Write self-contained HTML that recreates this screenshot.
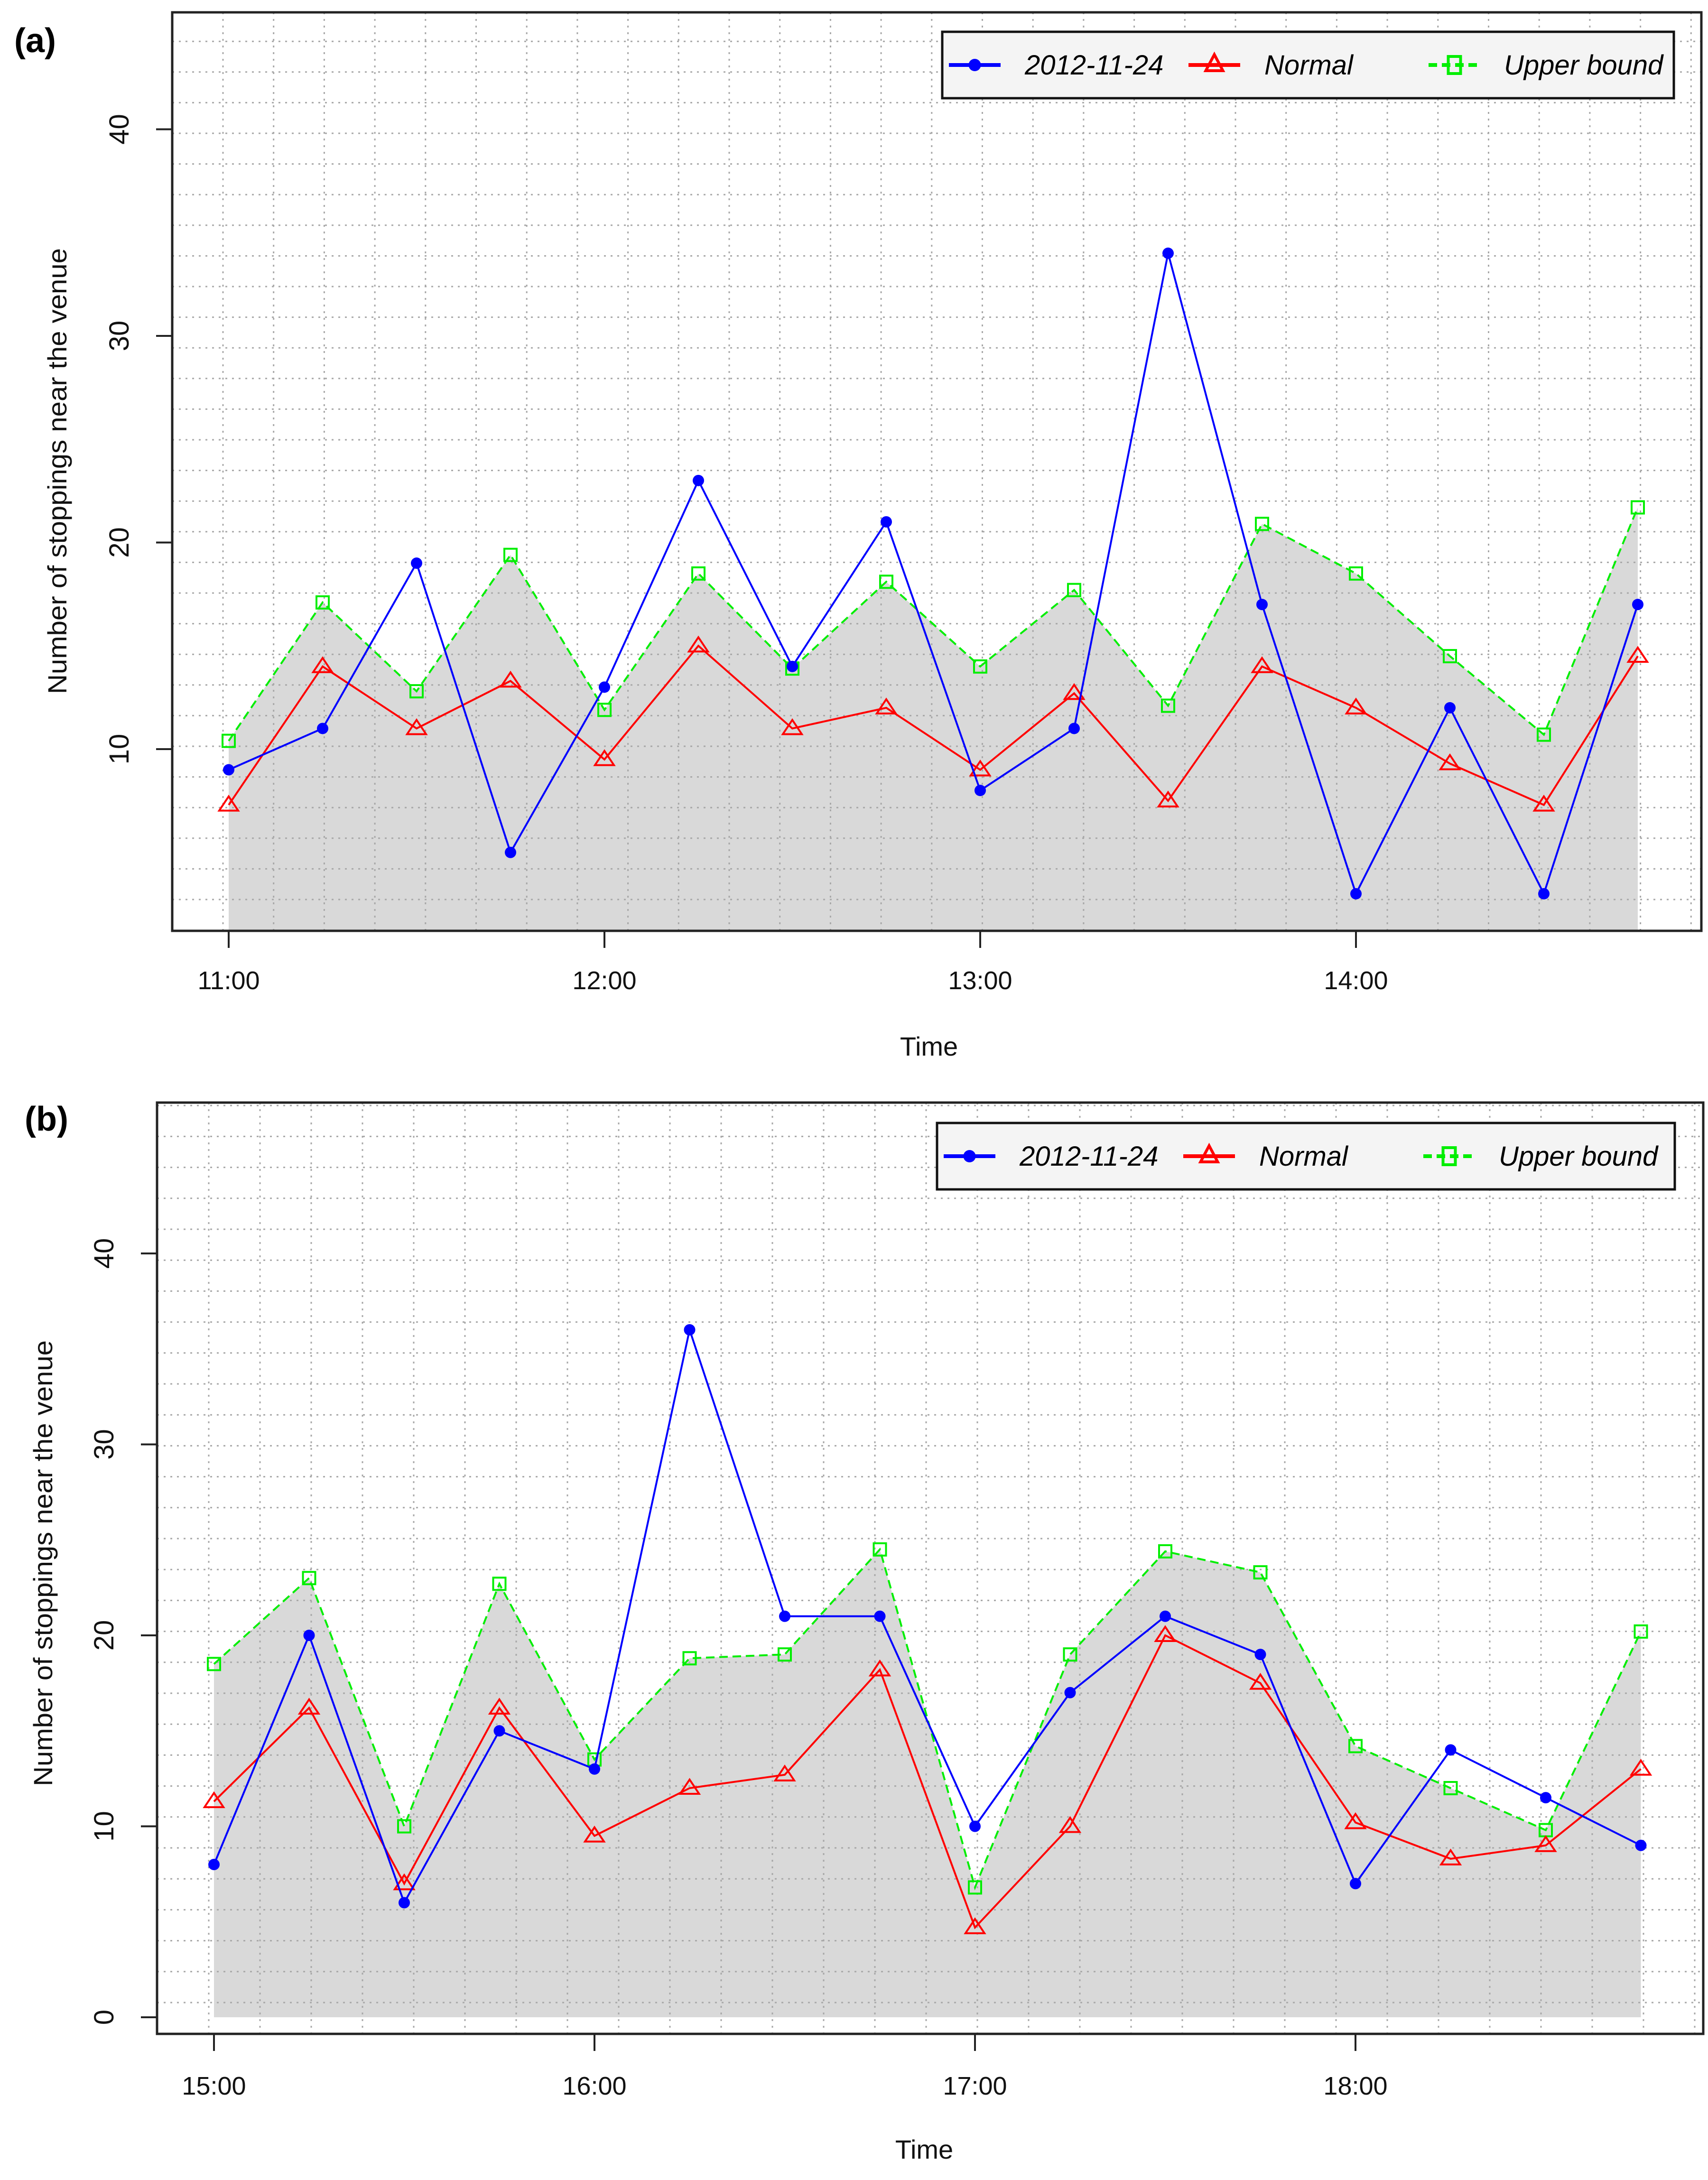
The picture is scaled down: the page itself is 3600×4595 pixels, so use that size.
<!DOCTYPE html>
<html><head><meta charset="utf-8">
<style>
html,body{margin:0;padding:0;background:#fff;}
svg{display:block;font-family:"Liberation Sans",Arial,sans-serif;}
</style></head>
<body>
<svg id="chart" width="3600" height="4595" viewBox="0 0 3600 4595" xmlns="http://www.w3.org/2000/svg"></svg>
<script>
// ---- data ----
const ticksA = ["11:00","12:00","13:00","14:00"];
const ticksB = ["15:00","16:00","17:00","18:00"];
const yTicksA = [10,20,30,40];
const yTicksB = [0,10,20,30,40];
const obsA = [9,11,19,5,13,23,14,21,8,11,34,17,3,12,3,17];
const normA = [7.3,14,11,13.3,9.5,15,11,12,9,12.7,7.5,14,12,9.3,7.3,14.5];
const upperA = [10.4,17.1,12.8,19.4,11.9,18.5,13.9,18.1,14,17.7,12.1,20.9,18.5,14.5,10.7,21.7];
const obsB = [8,20,6,15,13,36,21,21,10,17,21,19,7,14,11.5,9];
const normB = [11.3,16.2,7,16.2,9.5,12,12.7,18.2,4.7,10,20,17.5,10.2,8.3,9,13];
const upperB = [18.5,23,10,22.7,13.5,18.8,19,24.5,6.8,19,24.4,23.3,14.2,12,9.8,20.2];

const NS="http://www.w3.org/2000/svg";
const svg=document.getElementById('chart');
function mk(tag,attrs,parent){const e=document.createElementNS(NS,tag);for(const k in attrs)e.setAttribute(k,attrs[k]);(parent||svg).appendChild(e);return e;}

function panel(cfg){
  const g=mk('g',{});
  
  
  const L=cfg.left,R=cfg.right,T=cfg.top,B=cfg.bottom;
  const xs=i=>cfg.x0+i*cfg.hour/4;
  const ys=v=>cfg.yRef-(v-cfg.vRef)*cfg.unit;
  const cid='clip'+cfg.name;
  const defs=mk('defs',{},g);
  const cp=mk('clipPath',{id:cid},defs);
  mk('rect',{x:L,y:T,width:R-L,height:B-T},cp);
  const pg=mk('g',{'clip-path':'url(#'+cid+')'},g);
  let d='M'+xs(0)+','+ys(0);
  cfg.upper.forEach((v,i)=>{d+=' L'+xs(i)+','+ys(v);});
  d+=' L'+xs(cfg.upper.length-1)+','+ys(0)+' Z';
  const f=mk('path',{d:d,fill:'#d9d9d9'},pg);
  
  
  const grid=mk('g',{stroke:'#a8a8a8','stroke-width':3,'stroke-dasharray':'4 10'},pg);
  
  
  for(let x=cfg.gx0;x<R;x+=cfg.gdx) mk('line',{x1:x,y1:T,x2:x,y2:B},grid);
  for(let y=cfg.gy0;y>T;y-=cfg.gdy) mk('line',{x1:L,y1:y,x2:R,y2:y},grid);
  function series(vals,color,dash,name,marker){
    const sg=mk('g',{},pg);
    
    
    const pts=vals.map((v,i)=>xs(i)+','+ys(v)).join(' ');
    mk('polyline',{points:pts,fill:'none',stroke:color,'stroke-width':4,'stroke-dasharray':dash||'none'},sg);
    vals.forEach((v,i)=>{
      const x=xs(i),y=ys(v);let m;
      if(marker==='circle') m=mk('circle',{cx:x,cy:y,r:12,fill:color},sg);
      else if(marker==='tri') m=mk('polygon',{points:(x)+','+(y-18)+' '+(x-20)+','+(y+12)+' '+(x+20)+','+(y+12),fill:'none',stroke:color,'stroke-width':4},sg);
      else m=mk('rect',{x:x-13,y:y-13,width:26,height:26,fill:'none',stroke:color,'stroke-width':4},sg);
      
      
    });
  }
  series(cfg.upper,'#00ee00','18 10','upper-bound-series','sq');
  series(cfg.norm,'#ff0000',null,'normal-series','tri');
  series(cfg.obs,'#0000ff',null,'observed-series','circle');
  const box=mk('rect',{x:L,y:T,width:R-L,height:B-T,fill:'none',stroke:'#222','stroke-width':5},g);
  
  
  cfg.yTicks.forEach(v=>{
    const y=ys(v);
    mk('line',{x1:L-34,y1:y,x2:L,y2:y,stroke:'#222','stroke-width':4},g);
    const t=mk('text',{x:L-92,y:y,transform:'rotate(-90 '+(L-92)+' '+y+')','text-anchor':'middle','font-size':58,fill:'#111'},g);
    t.textContent=v;
    
    
  });
  cfg.xTicks.forEach((lab,i)=>{
    const x=xs(i*4);
    mk('line',{x1:x,y1:B,x2:x,y2:B+36,stroke:'#222','stroke-width':4},g);
    const t=mk('text',{x:x,y:cfg.xlabY,'text-anchor':'middle','font-size':54,fill:'#111'},g);
    t.textContent=lab;
    
    
  });
  const xt=mk('text',{x:cfg.timeX,y:cfg.timeY,'text-anchor':'middle','font-size':56,fill:'#111'},g);
  xt.textContent='Time';
  
  
  const yt=mk('text',{x:cfg.ytX,y:cfg.ytY,transform:'rotate(-90 '+cfg.ytX+' '+cfg.ytY+')','text-anchor':'middle','font-size':56,fill:'#111',textLength:940,lengthAdjust:'spacingAndGlyphs'},g);
  yt.textContent='Number of stoppings near the venue';
  
  
  const pl=mk('text',{x:cfg.lblX,y:cfg.lblY,'font-size':72,'font-weight':'bold',fill:'#000'},g);
  pl.textContent=cfg.label;
  
  
  const lg=mk('g',{},g);
  
  
  const lx=cfg.legX,ly=cfg.legY,lw=cfg.legW,lh=140;
  mk('rect',{x:lx,y:ly,width:lw,height:lh,fill:'#f4f4f4',stroke:'#111','stroke-width':5},lg);
  const cy=ly+lh/2;
  const items=[['2012-11-24','#0000ff','circle',null,14,174],['Normal','#ff0000','tri',null,519,679],['Upper bound','#00ee00','sq','18 10',1025,1184]];
  items.forEach(it=>{
    const ig=mk('g',{},lg);
    
    
    const x1=lx+it[4],x2=x1+109,xm=(x1+x2)/2;
    mk('line',{x1:x1,y1:cy,x2:x2,y2:cy,stroke:it[1],'stroke-width':8,'stroke-dasharray':it[3]||'none'},ig);
    if(it[2]==='circle') mk('circle',{cx:xm,cy:cy,r:13,fill:it[1]},ig);
    else if(it[2]==='tri') mk('polygon',{points:xm+','+(cy-22)+' '+(xm-18)+','+(cy+12)+' '+(xm+18)+','+(cy+12),fill:'none',stroke:it[1],'stroke-width':6},ig);
    else mk('rect',{x:xm-13,y:cy-18,width:26,height:36,fill:'none',stroke:it[1],'stroke-width':6},ig);
    const t=mk('text',{x:lx+it[5],y:cy+20,'font-size':58,'font-style':'italic',fill:'#000'},ig);
    t.textContent=it[0];
  });
}

panel({name:'panel-a',label:'(a)',left:363,right:3586,top:26,bottom:1962,
  x0:482,hour:792,yRef:1579,vRef:10,unit:43.55,
  gx0:470,gdx:106.7,gy0:1896,gdy:64.6,
  obs:obsA,norm:normA,upper:upperA,yTicks:yTicksA,xTicks:ticksA,
  xlabY:2085,timeX:1958,timeY:2225,ytX:140,ytY:993,lblX:30,lblY:110,
  legX:1986,legY:67,legW:1542});
panel({name:'panel-b',label:'(b)',left:331,right:3590,top:2324,bottom:4287,
  x0:451,hour:802,yRef:4252,vRef:0,unit:40.25,
  gx0:440,gdx:108,gy0:4221,gdy:65.2,
  obs:obsB,norm:normB,upper:upperB,yTicks:yTicksB,xTicks:ticksB,
  xlabY:4415,timeX:1948,timeY:4550,ytX:110,ytY:3295,lblX:52,lblY:2383,
  legX:1975,legY:2367,legW:1555});
</script>
</body></html>
